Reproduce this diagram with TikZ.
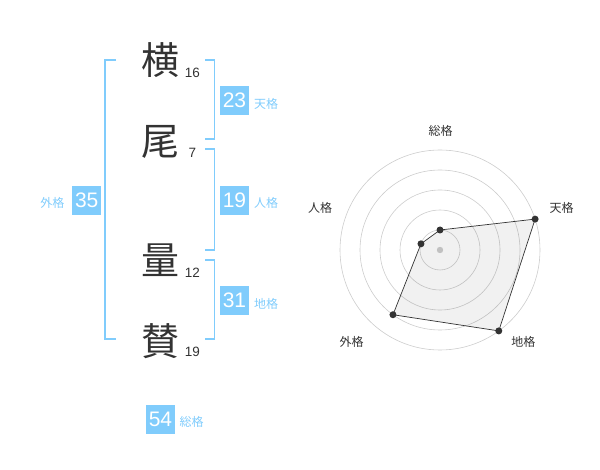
\documentclass[tikz,border=0pt]{standalone}
\usepackage{fontspec}
\setmainfont{Liberation Sans}
\newfontfamily\jp{Noto Sans CJK JP}
\definecolor{sky}{RGB}{128,204,252}
\definecolor{ink}{RGB}{51,51,51}
\definecolor{grid}{RGB}{204,204,204}
\begin{document}
\begin{tikzpicture}[x=1pt,y=-1pt,
  kanji/.style={font=\jp\fontsize{38}{38}\selectfont, text=ink, inner sep=0pt},
  stroke/.style={font=\fontsize{13.5}{14}\selectfont, text=ink, inner sep=0pt},
  numbox/.style={fill=sky, text=white, minimum width=29pt, minimum height=29pt, inner sep=0pt, font=\fontsize{21}{21}\selectfont},
  kaku/.style={font=\jp\fontsize{12}{12}\selectfont, text=sky, inner sep=0pt},
  brk/.style={draw=sky, line width=1.6pt},
  axlab/.style={font=\jp\fontsize{12}{12}\selectfont, text=ink, inner sep=0pt},
  ring/.style={draw=grid, line width=0.6pt},
  dot/.style={circle, fill=ink, inner sep=0pt, minimum size=7pt}]
\useasboundingbox (0,0) rectangle (600,470);
% kanji
\node[kanji] (k1) at (160,60) {横};
\node[kanji] (k2) at (160,141.7) {尾};
\node[kanji] (k3) at (160,260) {量};
\node[kanji] (k4) at (160,340.7) {賛};
\node[stroke] (s1) at (192.3,72.7) {16};
\node[stroke] (s2) at (192.3,152.7) {7};
\node[stroke] (s3) at (192.3,272.3) {12};
\node[stroke] (s4) at (192.3,352.3) {19};
% brackets
\coordinate (ga) at (116,60); \coordinate (gb) at (116,339.3);
\draw[brk] (ga) -- (105,60) -- (105,339.3) -- (gb);
\coordinate (ta) at (205,60); \coordinate (tb) at (205,139.3);
\draw[brk] (ta) -- (214.3,60) -- (214.3,139.3) -- (tb);
\coordinate (ja) at (205,149.3); \coordinate (jb) at (205,250);
\draw[brk] (ja) -- (214.3,149.3) -- (214.3,250) -- (jb);
\coordinate (ca) at (205,260); \coordinate (cb) at (205,339.3);
\draw[brk] (ca) -- (214.3,260) -- (214.3,339.3) -- (cb);
% boxes
\node[numbox] (b35) at (86.7,200.5) {35};
\node[kaku] (l35) at (52.3,203.3) {外格};
\node[numbox] (b23) at (234.5,100.5) {23};
\node[kaku] (l23) at (266,103.5) {天格};
\node[numbox] (b19) at (234.5,200.5) {19};
\node[kaku] (l19) at (266,203.3) {人格};
\node[numbox] (b31) at (234.5,300.5) {31};
\node[kaku] (l31) at (266,303.5) {地格};
\node[numbox] (b54) at (160.5,419) {54};
\node[kaku] (l54) at (191.7,422.3) {総格};
% radar
\begin{scope}[shift={(440,250)}]
\coordinate (c) at (0,0);
\foreach \r in {20,40,60,80,100} \draw[ring] (c) circle (\r);
\fill[grid] (c) circle (3.2);
\coordinate (p1) at (-90:20);
\coordinate (p2) at (-18:100);
\coordinate (p3) at (54:100);
\coordinate (p4) at (126:80);
\coordinate (p5) at (198:20);
\filldraw[fill=ink, fill opacity=0.07, draw=ink, line width=0.7pt] (p1) -- (p2) -- (p3) -- (p4) -- (p5) -- cycle;
\foreach \p in {p1,p2,p3,p4,p5} \node[dot] at (\p) {};
\node[axlab] (a1) at (0.5,-119.3) {総格};
\node[axlab] (a2) at (121.7,-41.7) {天格};
\node[axlab] (a3) at (83.3,91.7) {地格};
\node[axlab] (a4) at (-88.3,91.7) {外格};
\node[axlab] (a5) at (-120,-41.7) {人格};
\end{scope}
\end{tikzpicture}
\end{document}
